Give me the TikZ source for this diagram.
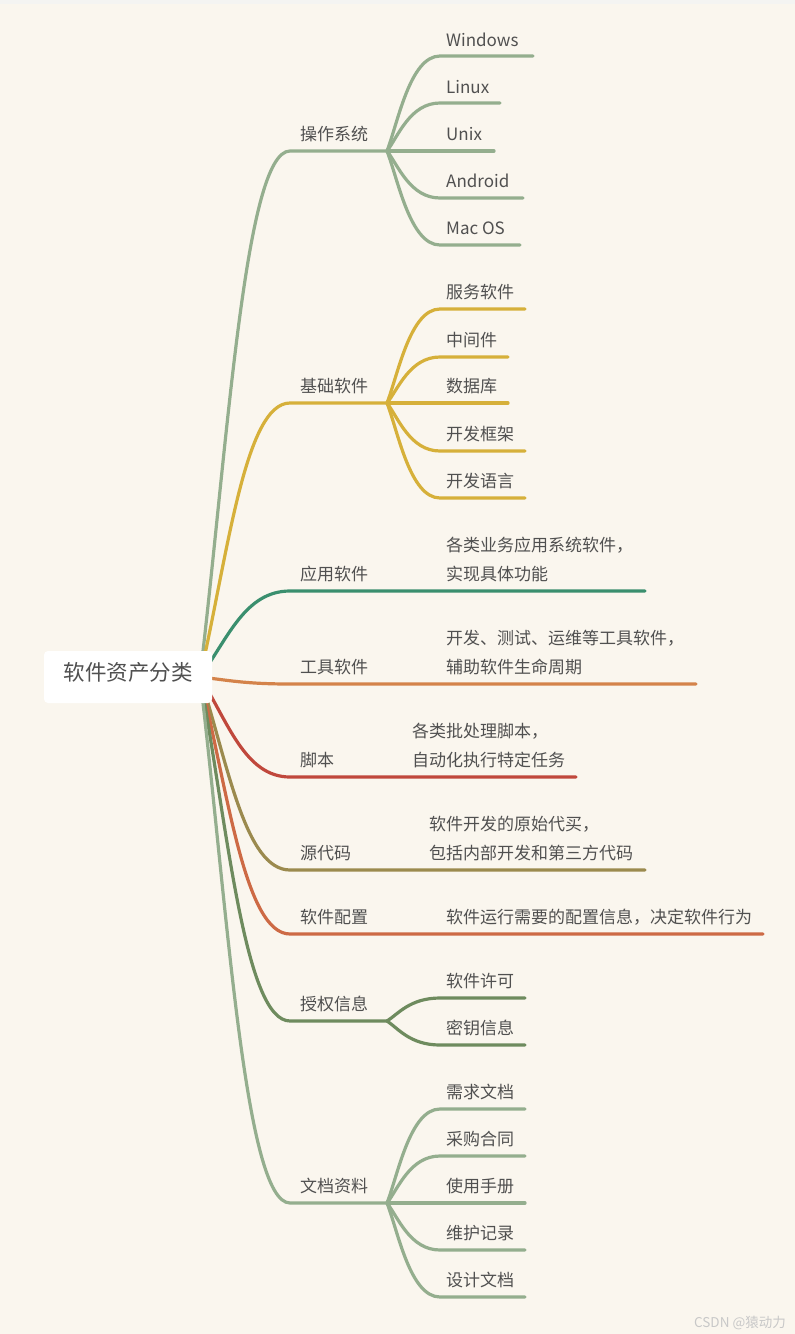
\documentclass[tikz,border=0pt]{standalone}
\usepackage{fontspec}
\setmainfont{Noto Sans CJK SC}
\usetikzlibrary{calc}
\definecolor{bg}{HTML}{FAF6EE}
\definecolor{topstrip}{HTML}{F4F4F2}
\definecolor{txt}{HTML}{505050}
\definecolor{wm}{HTML}{C8C8C8}
\definecolor{cA}{HTML}{94AE8E}
\definecolor{cB}{HTML}{D6B03A}
\definecolor{cC}{HTML}{3A8F6E}
\definecolor{cD}{HTML}{D4834A}
\definecolor{cE}{HTML}{C0483C}
\definecolor{cF}{HTML}{9B8A4E}
\definecolor{cG}{HTML}{CD6A45}
\definecolor{cH}{HTML}{6E8B5E}
\tikzset{
  branch/.style={line width=3.2pt, line cap=round},
  lbl/.style={text=txt, inner sep=0pt, anchor=base west, font=\fontsize{17}{20}\selectfont},
  rootbox/.style={fill=white, rounded corners=4pt, minimum width=168pt, minimum height=52pt,
    inner sep=0pt, text=txt, font=\fontsize{21.5}{24}\selectfont, text height=0.85em, text depth=0.15em},
}
\newcommand\mainbr[4]{%
  \coordinate (#1a) at (290,#3);
  \coordinate (#1b) at (#4,#3);
  \draw[branch,#2] (r) .. controls (228,{677+0.45*(#3-677)}) and (245,#3) .. (#1a) -- (#1b);}
\newcommand\subbr[6]{%
  \coordinate (#2a) at (440,#5);
  \coordinate (#2b) at (#6,#5);
  \draw[branch,#3] (#1b) .. controls (398,{#4+0.3*(#5-#4)}) and (410,#5) .. (#2a) -- (#2b);}
\begin{document}
\begin{tikzpicture}[x=1pt,y=-1pt]
\fill[bg] (0,0) rectangle (795,1334);
\fill[topstrip] (0,0) rectangle (795,4);
\useasboundingbox (0,0) rectangle (795,1334);
\coordinate (r) at (200,677);

% main branches
\mainbr{os}{cA}{151}{387}
\mainbr{base}{cB}{403}{387}
\mainbr{app}{cC}{591}{645}
\mainbr{tool}{cD}{684}{696}
\mainbr{scr}{cE}{777}{576}
\mainbr{src}{cF}{870}{645}
\mainbr{cfg}{cG}{934}{763}
\mainbr{lic}{cH}{1021}{387}
\mainbr{doc}{cA}{1203}{387}

% sub branches
\subbr{os}{win}{cA}{151}{56}{533}
\subbr{os}{lin}{cA}{151}{103}{500}
\subbr{os}{unx}{cA}{151}{151}{494}
\subbr{os}{and}{cA}{151}{198}{523}
\subbr{os}{mac}{cA}{151}{245}{520}

\subbr{base}{svc}{cB}{403}{309}{525}
\subbr{base}{mid}{cB}{403}{357}{508}
\subbr{base}{db}{cB}{403}{403}{508}
\subbr{base}{fw}{cB}{403}{451}{525}
\subbr{base}{lang}{cB}{403}{498}{525}

\subbr{lic}{lic1}{cH}{1021}{998}{525}
\subbr{lic}{lic2}{cH}{1021}{1045}{525}

\subbr{doc}{d1}{cA}{1203}{1109}{525}
\subbr{doc}{d2}{cA}{1203}{1156}{525}
\subbr{doc}{d3}{cA}{1203}{1203}{525}
\subbr{doc}{d4}{cA}{1203}{1250}{525}
\subbr{doc}{d5}{cA}{1203}{1297}{525}

% root
\node[rootbox] (root) at (128,677) {软件资产分类};

% main labels
\node[lbl] (tos) at (300,140) {操作系统};
\node[lbl] (tbase) at (300,392) {基础软件};
\node[lbl] (tapp) at (300,580) {应用软件};
\node[lbl] (ttool) at (300,673) {工具软件};
\node[lbl] (tscr) at (300,766) {脚本};
\node[lbl] (tsrc) at (300,859) {源代码};
\node[lbl] (tcfg) at (300,923) {软件配置};
\node[lbl] (tlic) at (300,1010) {授权信息};
\node[lbl] (tdoc) at (300,1192) {文档资料};

% sub labels
\node[lbl] (twin) at (446,46) {Windows};
\node[lbl] (tlin) at (446,93) {Linux};
\node[lbl] (tunx) at (446,140) {Unix};
\node[lbl] (tand) at (446,187) {Android};
\node[lbl] (tmac) at (446,234) {Mac OS};

\node[lbl] (tsvc) at (446,298) {服务软件};
\node[lbl] (tmid) at (446,346) {中间件};
\node[lbl] (tdb) at (446,392) {数据库};
\node[lbl] (tfw) at (446,440) {开发框架};
\node[lbl] (tlang) at (446,487) {开发语言};

\node[lbl] (tapp1) at (446,551) {各类业务应用系统软件，};
\node[lbl] (tapp2) at (446,580) {实现具体功能};
\node[lbl] (ttool1) at (446,644) {开发、测试、运维等工具软件，};
\node[lbl] (ttool2) at (446,673) {辅助软件生命周期};
\node[lbl] (tscr1) at (412,737) {各类批处理脚本，};
\node[lbl] (tscr2) at (412,766) {自动化执行特定任务};
\node[lbl] (tsrc1) at (429,830) {软件开发的原始代买，};
\node[lbl] (tsrc2) at (429,859) {包括内部开发和第三方代码};
\node[lbl] (tcfg1) at (446,923) {软件运行需要的配置信息，决定软件行为};

\node[lbl] (tlic1) at (446,987) {软件许可};
\node[lbl] (tlic2) at (446,1034) {密钥信息};

\node[lbl] (td1) at (446,1098) {需求文档};
\node[lbl] (td2) at (446,1145) {采购合同};
\node[lbl] (td3) at (446,1192) {使用手册};
\node[lbl] (td4) at (446,1239) {维护记录};
\node[lbl] (td5) at (446,1286) {设计文档};

% watermark
\node[text=wm, inner sep=0pt, anchor=base east, font=\fontsize{13.5}{15}\selectfont] (wmk) at (786,1327) {CSDN @猿动力};
\end{tikzpicture}
\end{document}
